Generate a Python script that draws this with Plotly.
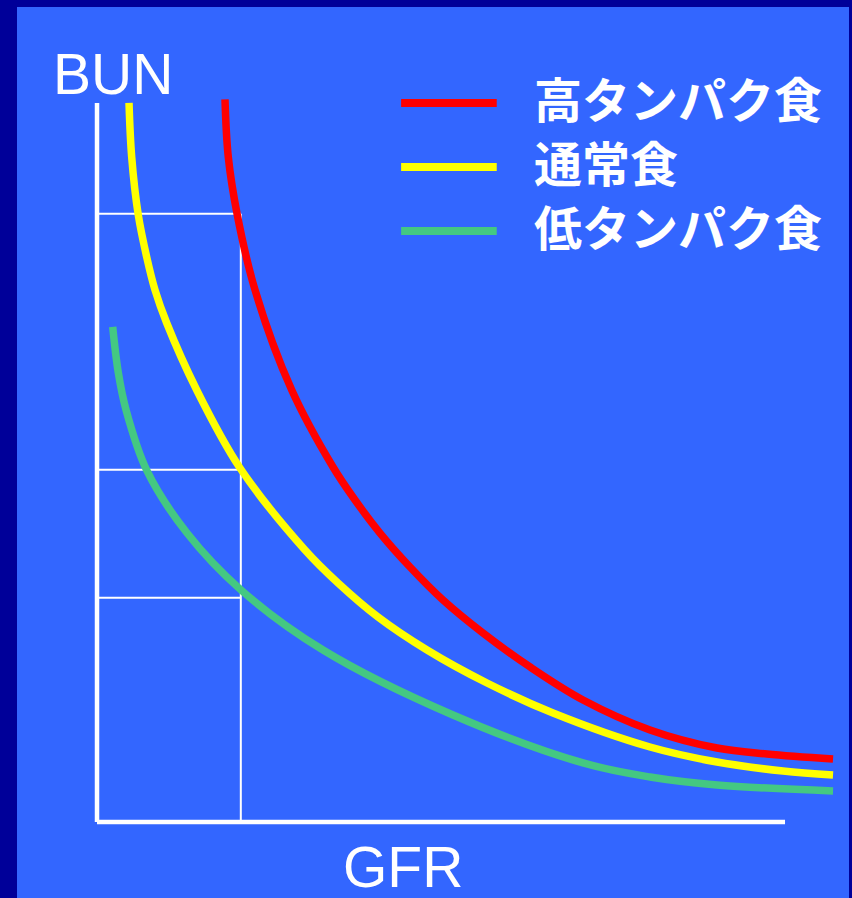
import plotly.graph_objects as go

# ---- data (GFR 0-100 along x, BUN 0-100 along y) ----
series_names = ["高タンパク食", "通常食", "低タンパク食"]
series_colors = ["#FF0000", "#FFFF00", "#44C882"]

gfr_high = [18.60, 19.08, 20.39, 22.97, 28.30, 34.30, 37.50, 41.13, 45.49,
            50.29, 56.10, 62.94, 70.64, 80.38, 90.12, 97.38, 106.98]
bun_high = [100.5, 92.49, 84.42, 73.99, 60.08, 49.37, 44.78, 40.19, 35.47,
            30.88, 26.29, 21.56, 16.97, 12.80, 10.29, 9.46, 8.76]

gfr_normal = [4.65, 5.04, 6.00, 7.22, 8.43, 10.13, 14.49, 20.78, 30.23,
              35.03, 40.84, 47.97, 56.69, 66.28, 80.38, 90.12, 99.71, 106.98]
bun_normal = [100.0, 92.49, 84.42, 78.58, 73.99, 69.40, 60.08, 49.24, 37.83,
              33.24, 28.51, 23.92, 19.33, 15.16, 10.43, 8.34, 7.09, 6.54]

gfr_low = [2.28, 3.10, 4.22, 7.27, 13.08, 20.93, 32.85, 51.74, 70.64,
           80.38, 90.12, 106.98]
bun_low = [68.85, 62.45, 57.30, 48.82, 40.19, 32.27, 23.92, 14.88, 8.21,
           6.26, 5.15, 4.31]

gfr_marker = 20.9
bun_markers = [84.6, 49.0, 31.2]
axis_max = 100

BG_OUTER = "#000099"
BG_INNER = "#3366FF"

fig = go.Figure()

for gx, by, name, col in zip([gfr_high, gfr_normal, gfr_low],
                             [bun_high, bun_normal, bun_low],
                             series_names, series_colors):
    fig.add_trace(go.Scatter(x=gx, y=by, mode="lines", name=name,
                             line=dict(color=col, width=7.5, shape="spline", smoothing=1.0),
                             showlegend=False, hoverinfo="skip"))

shapes = []
# axes
shapes.append(dict(type="line", xref="x", yref="y", x0=0, x1=0, y0=0, y1=axis_max,
                   line=dict(color="white", width=4.5), layer="below"))
shapes.append(dict(type="line", xref="x", yref="y", x0=0, x1=axis_max, y0=0, y1=0,
                   line=dict(color="white", width=4.5), layer="below"))
# reference lines
shapes.append(dict(type="line", xref="x", yref="y", x0=gfr_marker, x1=gfr_marker,
                   y0=0, y1=max(bun_markers), line=dict(color="white", width=2), layer="below"))
for b in bun_markers:
    shapes.append(dict(type="line", xref="x", yref="y", x0=0, x1=gfr_marker, y0=b, y1=b,
                       line=dict(color="white", width=2), layer="below"))

# legend swatches + text
legend_y = [100.0, 91.1, 82.2]
annotations = []
for ly, name, col in zip(legend_y, series_names, series_colors):
    shapes.append(dict(type="line", xref="x", yref="y", x0=44.2, x1=58.1, y0=ly, y1=ly,
                       line=dict(color=col, width=8)))
    annotations.append(dict(x=63.2, y=ly + 0.9, xref="x", yref="y", text="<b>" + name + "</b>",
                            showarrow=False, xanchor="left", yanchor="middle",
                            font=dict(family="Noto Sans CJK JP", size=48, color="white")))

annotations.append(dict(x=2.33, y=104.0, xref="x", yref="y", text="BUN", showarrow=False,
                        xanchor="center", yanchor="middle",
                        font=dict(family="Liberation Sans, Arial", size=57, color="white")))
annotations.append(dict(x=44.5, y=-6.3, xref="x", yref="y", text="GFR", showarrow=False,
                        xanchor="center", yanchor="middle",
                        font=dict(family="Liberation Sans, Arial", size=57, color="white")))

fig.update_layout(
    width=852, height=898,
    margin=dict(l=17, r=3, t=7, b=0, pad=0),
    paper_bgcolor=BG_OUTER, plot_bgcolor=BG_INNER,
    xaxis=dict(range=[-11.63, 109.30], visible=False, fixedrange=True),
    yaxis=dict(range=[-10.57, 113.35], visible=False, fixedrange=True),
    shapes=shapes, annotations=annotations, showlegend=False,
)

fig.write_html("out.html", config={"displayModeBar": False},
               post_script="document.body.style.margin='0';document.body.style.overflow='hidden';")
